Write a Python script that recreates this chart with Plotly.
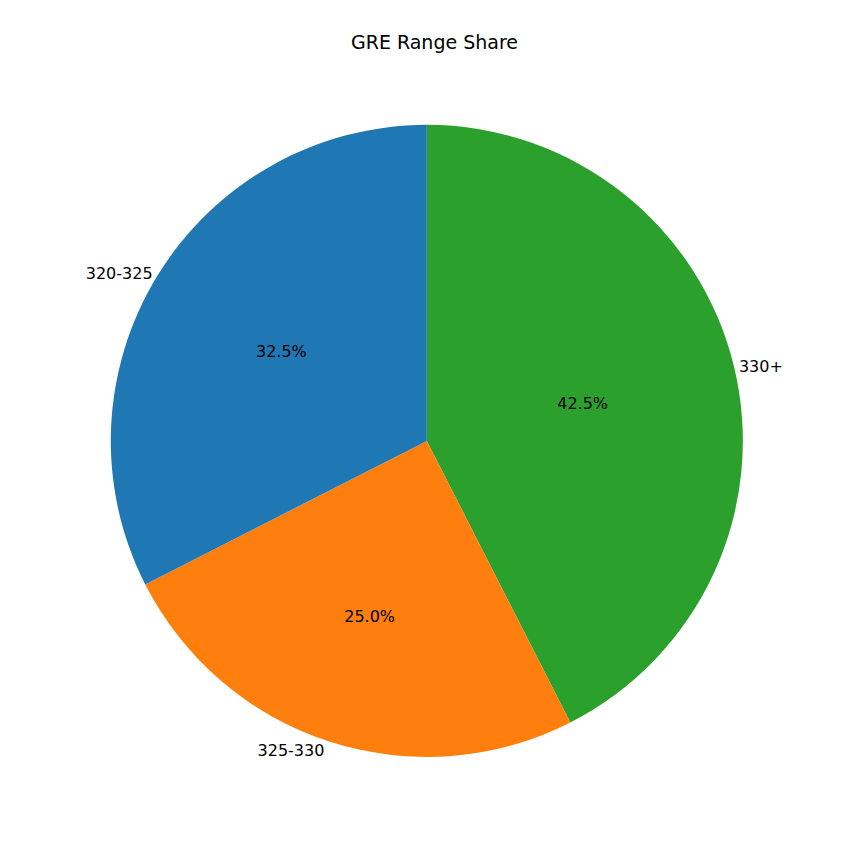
import plotly.graph_objects as go

labels = ["320-325", "325-330", "330+"]
values = [32.5, 25.0, 42.5]
colors = ["#1f77b4", "#ff7f0e", "#2ca02c"]

# drawn clockwise from 12 o'clock in reverse order == counterclockwise in original order
lab_r, val_r, col_r = labels[::-1], values[::-1], colors[::-1]

dom = dict(x=[0.120, 0.862], y=[0.122, 0.863])

fig = go.Figure()
# percentages inside
fig.add_trace(go.Pie(
    labels=lab_r, values=val_r, sort=False, direction="clockwise", rotation=0,
    marker=dict(colors=col_r), textinfo="percent", texttemplate="%{percent:.1%}",
    textposition="inside", insidetextorientation="horizontal",
    textfont=dict(size=16, color="black"), domain=dom, showlegend=False, hoverinfo="skip",
))
# labels outside
fig.add_trace(go.Pie(
    labels=lab_r, values=val_r, sort=False, direction="clockwise", rotation=0,
    marker=dict(colors=["rgba(0,0,0,0)"] * 3), textinfo="label", textposition="outside",
    textfont=dict(size=16, color="black"), domain=dom, showlegend=False, hoverinfo="skip",
))

fig.update_layout(
    width=853, height=853,
    margin=dict(l=0, r=0, t=0, b=0),
    paper_bgcolor="white",
    font=dict(family="DejaVu Sans"),
    title=dict(text="GRE Range Share", x=0.5, y=0.967, xanchor="center",
               font=dict(size=19, color="black")),
)

fig.write_html("out.html")
